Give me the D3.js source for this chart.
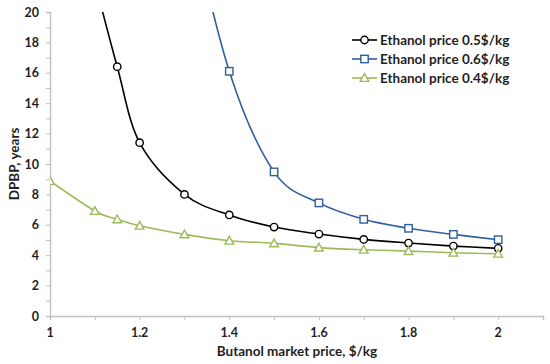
<!DOCTYPE html>
<html>
<head>
<meta charset="utf-8">
<script src="https://cdn.jsdelivr.net/npm/d3@7"></script>
<style>
  html, body { margin: 0; padding: 0; background: #fff; }
  svg { display: block; font-family: Lato, "Open Sans", sans-serif; }
</style>
</head>
<body>
<svg id="chart" width="550" height="364"></svg>
<script>
// Butanol market price, $/kg
const priceBlack = [1.1, 1.15, 1.2, 1.3, 1.4, 1.5, 1.6, 1.7, 1.8, 1.9, 2.0];
const dpbpBlack = [22, 16.4, 11.4, 8.0, 6.65, 5.85, 5.39, 5.04, 4.8, 4.6, 4.45];

const priceBlue = [1.3, 1.4, 1.5, 1.6, 1.7, 1.8, 1.9, 2.0];
const dpbpBlue = [28, 16.1, 9.48, 7.44, 6.36, 5.77, 5.37, 5.02];

const priceGreen = [1.0, 1.1, 1.15, 1.2, 1.3, 1.4, 1.5, 1.6, 1.7, 1.8, 1.9, 2.0];
const dpbpGreen = [8.88, 6.91, 6.36, 5.94, 5.37, 4.95, 4.78, 4.5, 4.36, 4.27, 4.16, 4.1];

const seriesNames = ['Ethanol price 0.5$/kg', 'Ethanol price 0.6$/kg', 'Ethanol price 0.4$/kg'];
const xTicks = [1, 1.2, 1.4, 1.6, 1.8, 2];
const yTicks = [0, 2, 4, 6, 8, 10, 12, 14, 16, 18, 20];

const series = [
  { name: seriesNames[0], xs: priceBlack, ys: dpbpBlack, color: '#000000', marker: 'circle' },
  { name: seriesNames[1], xs: priceBlue, ys: dpbpBlue, color: '#2f5f9c', marker: 'square' },
  { name: seriesNames[2], xs: priceGreen, ys: dpbpGreen, color: '#9bbb59', marker: 'triangle' }
];

const svg = d3.select('#chart');
const plotLeft = 50, plotRight = 543, plotTop = 12, plotBottom = 316;

const x = d3.scaleLinear().domain([1, 2.1]).range([plotLeft, plotRight]);
const y = d3.scaleLinear().domain([0, 20]).range([plotBottom, plotTop]);

const axisColor = '#c0c0c0';
const textColor = '#1f1f1f';

// minor + major tick marks
const xMarks = d3.range(1, 2.1001, 0.1);
const yMarks = d3.range(0, 20.001, 1);

const gx = svg.append('g').attr('transform', `translate(0,${plotBottom})`)
  .call(d3.axisBottom(x).tickValues(xMarks).tickSize(4).tickFormat(''));
const gy = svg.append('g').attr('transform', `translate(${plotLeft},0)`)
  .call(d3.axisLeft(y).tickValues(yMarks).tickSize(4).tickFormat(''));
[gx, gy].forEach(g => {
  g.select('.domain').attr('stroke', axisColor).attr('stroke-width', 1.4);
  g.selectAll('.tick line').attr('stroke', axisColor).attr('stroke-width', 1);
});

// tick labels
svg.append('g').selectAll('text').data(xTicks).join('text')
  .attr('x', d => x(d)).attr('y', 337)
  .attr('text-anchor', 'middle')
  .attr('font-size', 12.5).attr('font-weight', 'bold').attr('fill', textColor)
  .text(d => d3.format('~g')(d));

svg.append('g').selectAll('text').data(yTicks).join('text')
  .attr('x', 39).attr('y', d => y(d) + 4.5)
  .attr('text-anchor', 'end')
  .attr('font-size', 12.5).attr('font-weight', 'bold').attr('fill', textColor)
  .text(d => d);

// axis titles
svg.append('text')
  .attr('x', 297).attr('y', 356)
  .attr('text-anchor', 'middle')
  .attr('font-size', 13.5).attr('font-weight', 'bold').attr('fill', textColor)
  .text('Butanol market price, $/kg');

svg.append('text')
  .attr('transform', `translate(19,${(plotTop + plotBottom) / 2}) rotate(-90)`)
  .attr('text-anchor', 'middle')
  .attr('font-size', 13.5).attr('font-weight', 'bold').attr('fill', textColor)
  .text('DPBP, years');

// clip to plot area
svg.append('clipPath').attr('id', 'plot-clip')
  .append('rect').attr('x', plotLeft).attr('y', plotTop)
  .attr('width', plotRight - plotLeft + 10).attr('height', plotBottom - plotTop);

const line = d3.line()
  .x(d => x(d[0])).y(d => y(d[1]))
  .curve(d3.curveCardinal.tension(0));

function drawMarker(g, type, color) {
  if (type === 'circle') {
    g.append('circle').attr('r', 3.7)
      .attr('fill', '#fff').attr('stroke', color).attr('stroke-width', 1.4);
  } else if (type === 'square') {
    g.append('rect').attr('x', -3.7).attr('y', -3.7).attr('width', 7.4).attr('height', 7.4)
      .attr('fill', '#fff').attr('stroke', color).attr('stroke-width', 1.4);
  } else {
    g.append('path').attr('d', 'M0,-4.3L4.3,3.4L-4.3,3.4Z')
      .attr('fill', '#fff').attr('stroke', color).attr('stroke-width', 1.4);
  }
}

const plot = svg.append('g').attr('clip-path', 'url(#plot-clip)');

series.forEach(s => {
  const pts = s.xs.map((v, i) => [v, s.ys[i]]);
  plot.append('path')
    .attr('d', line(pts))
    .attr('fill', 'none').attr('stroke', s.color).attr('stroke-width', 1.6);
  plot.append('g').selectAll('g').data(pts.filter(p => p[1] <= 20)).join('g')
    .attr('transform', d => `translate(${x(d[0])},${y(d[1])})`)
    .each(function () { drawMarker(d3.select(this), s.marker, s.color); });
});

// legend
const legend = svg.append('g');
series.forEach((s, i) => {
  const ly = 40 + i * 19;
  const row = legend.append('g');
  row.append('line').attr('x1', 352).attr('x2', 377).attr('y1', ly).attr('y2', ly)
    .attr('stroke', s.color).attr('stroke-width', 1.6);
  const m = row.append('g').attr('transform', `translate(364.5,${ly})`);
  drawMarker(m, s.marker, s.color);
  row.append('text').attr('x', 380).attr('y', ly + 4.5)
    .attr('font-size', 13.5).attr('font-weight', 'bold').attr('fill', textColor)
    .text(s.name);
});
</script>
</body>
</html>
